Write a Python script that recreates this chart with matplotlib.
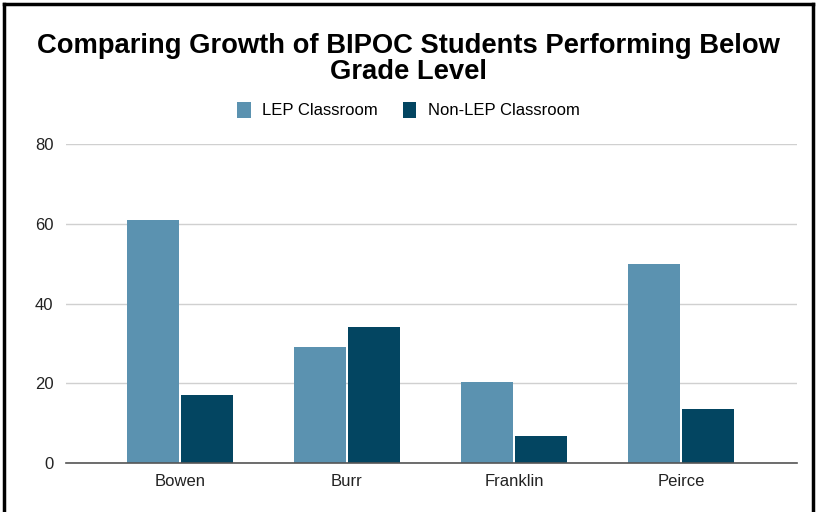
import matplotlib
matplotlib.use("Agg")
import matplotlib.pyplot as plt
import numpy as np

schools = ["Bowen", "Burr", "Franklin", "Peirce"]
lep = [61, 29, 20.3, 50]
non_lep = [17, 34, 6.8, 13.5]
series_names = ["LEP Classroom", "Non-LEP Classroom"]
yticks = [0, 20, 40, 60, 80]

plt.rcParams['font.family'] = ['Liberation Sans', 'DejaVu Sans']

fig = plt.figure(figsize=(8.17, 5.12), dpi=100)
ax = fig.add_axes([66/817, 1-463/512, (797-66)/817, (463-144)/512])

x = np.arange(len(schools))
w = 0.31
gap = 0.01
c1 = "#5b92b0"
c2 = "#034561"
ax.bar(x - w/2 - gap/2, lep, width=w, color=c1, label=series_names[0], zorder=3)
ax.bar(x + w/2 + gap/2, non_lep, width=w, color=c2, label=series_names[1], zorder=3)

ax.set_xlim(-114/167, 3 + 116/167)
ax.set_ylim(0, 80)
ax.set_yticks(yticks)
ax.set_yticklabels([str(t) for t in yticks], fontsize=12)
ax.set_xticks(x)
ax.set_xticklabels(schools, fontsize=12)
ax.tick_params(axis='both', length=0, colors='#222222')
ax.tick_params(axis='y', pad=9)
ax.tick_params(axis='x', pad=8)
ax.grid(axis='y', color='#d0d0d0', linewidth=1, zorder=0)
for s in ['top', 'right', 'left']:
    ax.spines[s].set_visible(False)
ax.spines['bottom'].set_color('#555555')
ax.spines['bottom'].set_linewidth(1.2)
ax.spines['bottom'].set_zorder(4)

fig.text(0.5, 1-46/512, "Comparing Growth of BIPOC Students Performing Below",
         ha='center', va='center', fontsize=19.7, fontweight='bold')
fig.text(0.5, 1-72/512, "Grade Level",
         ha='center', va='center', fontsize=19.7, fontweight='bold')

leg = fig.legend(loc='center', bbox_to_anchor=(0.5, 1-110/512), ncol=2, frameon=False,
                 fontsize=12, handlelength=0.8, handleheight=1.1, handletextpad=0.7,
                 columnspacing=1.5)

# border
fig.add_artist(plt.Line2D([4/817, 4/817], [0, 1-4/512], color='black', linewidth=2.5))
fig.add_artist(plt.Line2D([4/817, 813/817], [1-4/512, 1-4/512], color='black', linewidth=2.5))
fig.add_artist(plt.Line2D([813/817, 813/817], [0, 1-4/512], color='black', linewidth=2.5))

fig.savefig("out.png", dpi=100)
